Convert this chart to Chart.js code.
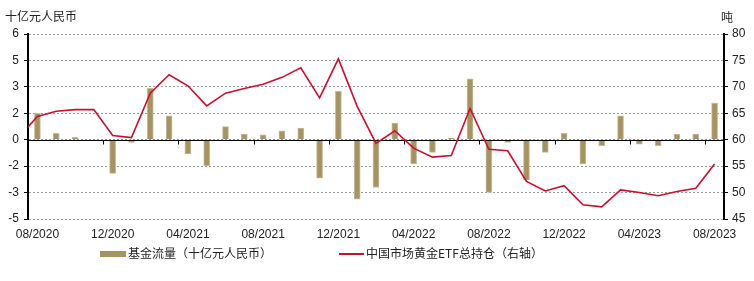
<!DOCTYPE html>
<html>
<head>
<meta charset="utf-8">
<script src="https://cdn.jsdelivr.net/npm/chart.js@4.4.1/dist/chart.umd.min.js"></script>
<style>
  html, body { margin: 0; padding: 0; background: #fff; }
  #wrap { position: relative; width: 754px; height: 281px; }
  #c { position: absolute; left: 0; top: 0; }
  .legend { position: absolute; top: 245px; font: 12px "Noto Sans CJK SC", sans-serif; color: #222; white-space: nowrap; line-height: 16px; }
  .sw { display: inline-block; vertical-align: middle; margin-right: 2px; position: relative; top: -1px; }
</style>
</head>
<body>
<div id="wrap">
  <canvas id="c" width="754" height="281"></canvas>
  <div class="legend" style="left:100px"><span class="sw" style="width:26px;height:6px;background:#a59364"></span>基金流量（十亿元人民币）</div>
  <div class="legend" style="left:339px"><span class="sw" style="width:25px;height:2px;background:#c8102e"></span>中国市场黄金ETF总持仓（右轴）</div>
</div>
<script>
// Months (index -1 = 07/2020, index 0 = 08/2020 ... 36 = 08/2023)
const months = ['07/2020','08/2020','09/2020','10/2020','11/2020','12/2020',
  '01/2021','02/2021','03/2021','04/2021','05/2021','06/2021','07/2021','08/2021','09/2021','10/2021','11/2021','12/2021',
  '01/2022','02/2022','03/2022','04/2022','05/2022','06/2022','07/2022','08/2022','09/2022','10/2022','11/2022','12/2022',
  '01/2023','02/2023','03/2023','04/2023','05/2023','06/2023','07/2023','08/2023'];
const tickLabels = ['08/2020','12/2020','04/2021','08/2021','12/2021','04/2022','08/2022','12/2022','04/2023','08/2023'];
// Fund flows (billion RMB), 08/2020 .. 08/2023
const flows = [1.5,0.36,0.13,0,-1.91,-0.15,2.92,1.36,-0.81,-1.48,0.74,0.32,0.28,0.51,0.66,-2.18,2.74,-3.37,-2.71,0.95,-1.38,-0.72,0.09,3.45,-2.99,-0.15,-2.29,-0.72,0.36,-1.38,-0.34,1.36,-0.25,-0.34,0.32,0.32,2.08];
// China gold ETF holdings (tonnes), 07/2020 .. 08/2023
const holdings = [60.4,64.4,65.4,65.7,65.7,60.8,60.4,68.8,72.3,70.2,66.4,68.8,69.7,70.5,71.8,73.6,67.9,75.3,66.3,59.3,61.7,58.4,56.7,57.0,65.9,58.2,57.9,52.1,50.3,51.3,47.7,47.3,50.5,50.0,49.4,50.2,50.8,55.4];
const leftTicks = [-4.5,-3,-1.5,0,1.5,3,4.5,6];
const rightTicks = [45,50,55,60,65,70,75,80];

const barData = flows.map((v,i)=>({x:i, y:v}));
const lineData = holdings.map((v,i)=>({x:i-1, y:v}));
const tickIdx = tickLabels.map(l => months.indexOf(l) - 1);

const FONT = 'Liberation Sans, Arial, sans-serif';
function xlRound(v){ return Math.sign(v)*Math.round(Math.abs(v)); }

const overlay = {
  id: 'overlay',
  afterDatasetDraw(chart, args) {
    if (args.index !== 1) return;
    const ctx = chart.ctx, ca = chart.chartArea;
    const y0 = Math.round(chart.scales.y.getPixelForValue(0)) + 0.5;
    ctx.save();
    ctx.strokeStyle = '#000'; ctx.lineWidth = 1;
    ctx.beginPath(); ctx.moveTo(ca.left, y0); ctx.lineTo(ca.right, y0); ctx.stroke();
    const xs = chart.scales.x;
    tickIdx.forEach(k => {
      if (k === 0) return;
      const x = Math.round(xs.getPixelForValue(k - 0.5)) + 0.5;
      ctx.beginPath(); ctx.moveTo(x, y0); ctx.lineTo(x, y0 + 4); ctx.stroke();
    });
    ctx.restore();
  },
  afterDraw(chart) {
    const ctx = chart.ctx;
    ctx.save();
    ctx.fillStyle = '#222';
    ctx.font = '12px "Noto Sans CJK SC"';
    ctx.textBaseline = 'middle';
    ctx.textAlign = 'left';
    ctx.fillText('十亿元人民币', 5, 16);
    ctx.fillText('吨', 721, 17);
    ctx.restore();
  }
};

new Chart(document.getElementById('c'), {
  data: {
    datasets: [
      { type: 'line', label: '中国市场黄金ETF总持仓（右轴）', data: lineData, yAxisID: 'y2',
        borderColor: '#c8102e', borderWidth: 1.6, pointRadius: 0, tension: 0, order: 0 },
      { type: 'bar', label: '基金流量（十亿元人民币）', data: barData, yAxisID: 'y',
        backgroundColor: '#a59364', borderColor: '#c9bb95', borderWidth: 1, barThickness: 6, order: 1 }
    ]
  },
  options: {
    responsive: false, animation: false,
    layout: { padding: { top: 34, left: 0, right: 0, bottom: 0 } },
    plugins: { legend: { display: false }, tooltip: { enabled: false } },
    scales: {
      x: {
        type: 'linear', position: 'bottom', min: -0.5, max: 36.5, offset: false, bounds: 'data',
        afterBuildTicks(s) { s.ticks = tickIdx.map(v => ({ value: v })); },
        afterFit(s) { s.height = 62; },
        grid: { display: false, drawTicks: false, offset: false },
        border: { display: false },
        ticks: { padding: 8, maxRotation: 0, autoSkip: false, color: '#222',
          font: { family: FONT, size: 12 },
          callback(v) { const i = tickIdx.indexOf(v); return i >= 0 ? tickLabels[i] : ''; } }
      },
      y: {
        position: 'left', min: -4.5, max: 6,
        afterBuildTicks(s) { s.ticks = leftTicks.map(v => ({ value: v })); },
        afterFit(s) { s.width = 28; },
        grid: { color: '#9a9a9a', lineWidth: 1, tickColor: '#000', tickLength: 4, tickBorderDash: [], tickWidth: 1 },
        border: { display: true, color: '#000', width: 2, dash: [2, 2] },
        ticks: { padding: 5, color: '#222', font: { family: FONT, size: 12 }, callback: v => String(xlRound(v)) }
      },
      y2: {
        position: 'right', min: 45, max: 80,
        afterBuildTicks(s) { s.ticks = rightTicks.map(v => ({ value: v })); },
        afterFit(s) { s.width = 30; },
        grid: { drawOnChartArea: false, tickColor: '#000', tickLength: 4, tickWidth: 1 },
        border: { display: true, color: '#000', width: 2 },
        ticks: { padding: 4, color: '#222', font: { family: FONT, size: 12 } }
      }
    }
  },
  plugins: [overlay]
});
</script>
</body>
</html>
